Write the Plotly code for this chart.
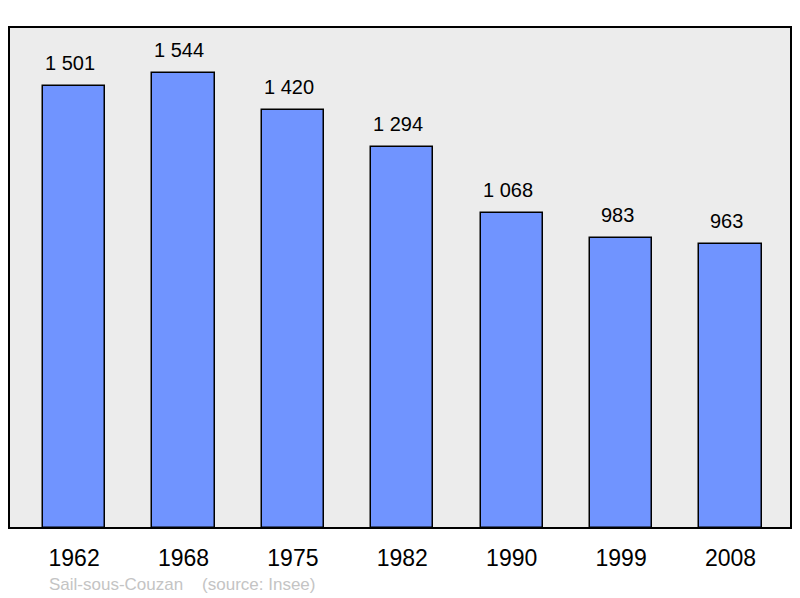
import plotly.graph_objects as go

years = ["1962", "1968", "1975", "1982", "1990", "1999", "2008"]
population = [1501, 1544, 1420, 1294, 1068, 983, 963]

def fmt(v):
    return f"{v:,}".replace(",", " ")

xpos = list(range(len(years)))
FONT = "Liberation Sans, Arial, sans-serif"

fig = go.Figure()
fig.add_trace(go.Bar(
    x=xpos, y=population, width=0.567,
    marker=dict(color="#7094ff", line=dict(color="black", width=1.5)),
    hoverinfo="skip",
))

for i, v in zip(xpos, population):
    fig.add_annotation(x=i, y=v, text=fmt(v), showarrow=False,
                       yanchor="middle", yshift=23, xshift=-4,
                       font=dict(family=FONT, size=20, color="black"))

fig.add_annotation(xref="paper", yref="paper", x=(47-9)/782, y=-(584-528)/501,
                   xanchor="left", yanchor="middle", showarrow=False,
                   text="Sail-sous-Couzan\u00a0\u00a0\u00a0\u00a0(source: Insee)",
                   font=dict(family=FONT, size=17, color="#c4c4c4"))

fig.add_shape(type="rect", xref="paper", yref="paper", x0=0, y0=0, x1=1, y1=1,
              line=dict(color="black", width=2), layer="above")

fig.update_layout(
    width=800, height=598,
    margin=dict(l=9, r=9, t=27, b=70),
    paper_bgcolor="white", plot_bgcolor="#ececec",
    showlegend=False,
    bargap=0,
    xaxis=dict(range=[-0.595, 6.553], tickmode="array", tickvals=xpos, ticktext=years,
               showgrid=False, zeroline=False, ticks="outside", ticklen=9,
               tickcolor="rgba(0,0,0,0)",
               tickfont=dict(family=FONT, size=23, color="black")),
    yaxis=dict(range=[0, 1700], showgrid=False, zeroline=False, showticklabels=False),
)

fig.write_html("out.html", config={"displayModeBar": False},
               post_script="document.body.style.margin='0';")
